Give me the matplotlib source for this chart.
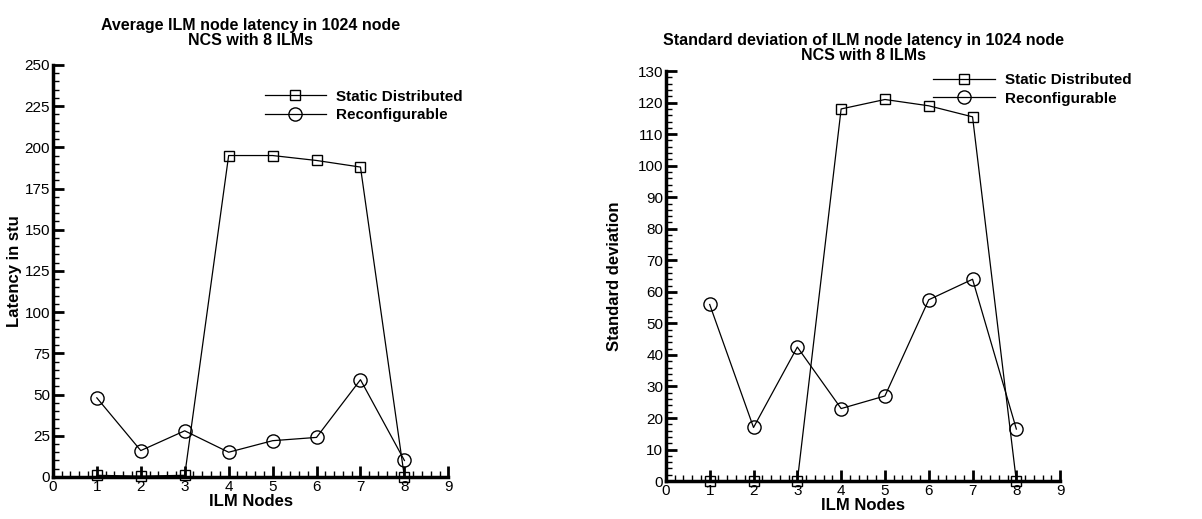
import matplotlib
matplotlib.use("Agg")
import matplotlib.pyplot as plt
from matplotlib.ticker import MultipleLocator

plt.rcParams['font.family'] = ['Liberation Sans', 'DejaVu Sans']

nodes = [1, 2, 3, 4, 5, 6, 7, 8]
avg_static = [1, 0.5, 1, 195, 195, 192, 188, 0]
avg_reconf = [48, 16, 28, 15, 22, 24, 59, 10]
std_static = [0, 0, 0, 118, 121, 119, 115.5, 0]
std_reconf = [56, 17, 42.5, 23, 27, 57.5, 64, 16.5]

titles = ["Average ILM node latency in 1024 node\nNCS with 8 ILMs",
          "Standard deviation of ILM node latency in 1024 node\nNCS with 8 ILMs"]
ylabels = ["Latency in stu", "Standard deviation"]
xlabel = "ILM Nodes"
labels = ["Static Distributed", "Reconfigurable"]

fig = plt.figure(figsize=(12.02, 5.19), dpi=100)
ax1 = fig.add_axes([0.044, 0.081, 0.329, 0.794])
ax2 = fig.add_axes([0.554, 0.073, 0.328, 0.790])

configs = [
    (ax1, avg_static, avg_reconf, 250, 25, 5, (0.52, 0.90), 14, 2),
    (ax2, std_static, std_reconf, 130, 10, 2, (0.663, 0.955), 8, 11),
]

for i, (ax, s, r, ymax, maj, mnr, legpos, tpad, lpad) in enumerate(configs):
    ax.plot(nodes, s, color='black', lw=0.9, marker='s', ms=7, mfc='none',
            mec='black', mew=1.0, clip_on=False, label=labels[0], zorder=3)
    ax.plot(nodes, r, color='black', lw=0.9, marker='o', ms=9.5, mfc='none',
            mec='black', mew=1.0, clip_on=False, label=labels[1], zorder=3)
    ax.set_xlim(0, 9)
    ax.set_ylim(0, ymax)
    ax.xaxis.set_major_locator(MultipleLocator(1))
    ax.xaxis.set_minor_locator(MultipleLocator(0.2))
    ax.yaxis.set_major_locator(MultipleLocator(maj))
    ax.yaxis.set_minor_locator(MultipleLocator(mnr))
    ax.tick_params(which='major', direction='in', length=8, width=2, labelsize=11, pad=2)
    ax.tick_params(which='minor', direction='in', length=4, width=1)
    for sp in ['top', 'right']:
        ax.spines[sp].set_visible(False)
    for sp in ['left', 'bottom']:
        ax.spines[sp].set_linewidth(2.5)
    ax.set_title(titles[i], fontsize=11.5, fontweight='bold', pad=tpad, linespacing=1.0)
    ax.set_xlabel(xlabel, fontsize=12, fontweight='bold', labelpad=0)
    ax.set_ylabel(ylabels[i], fontsize=12, fontweight='bold', labelpad=lpad)
    leg = ax.legend(loc='center left', bbox_to_anchor=legpos, frameon=False,
                    fontsize=11, handlelength=4.0, handletextpad=0.7,
                    labelspacing=0.3, borderaxespad=0)
    for t in leg.get_texts():
        t.set_fontweight('bold')

fig.savefig("out.png", dpi=100)
